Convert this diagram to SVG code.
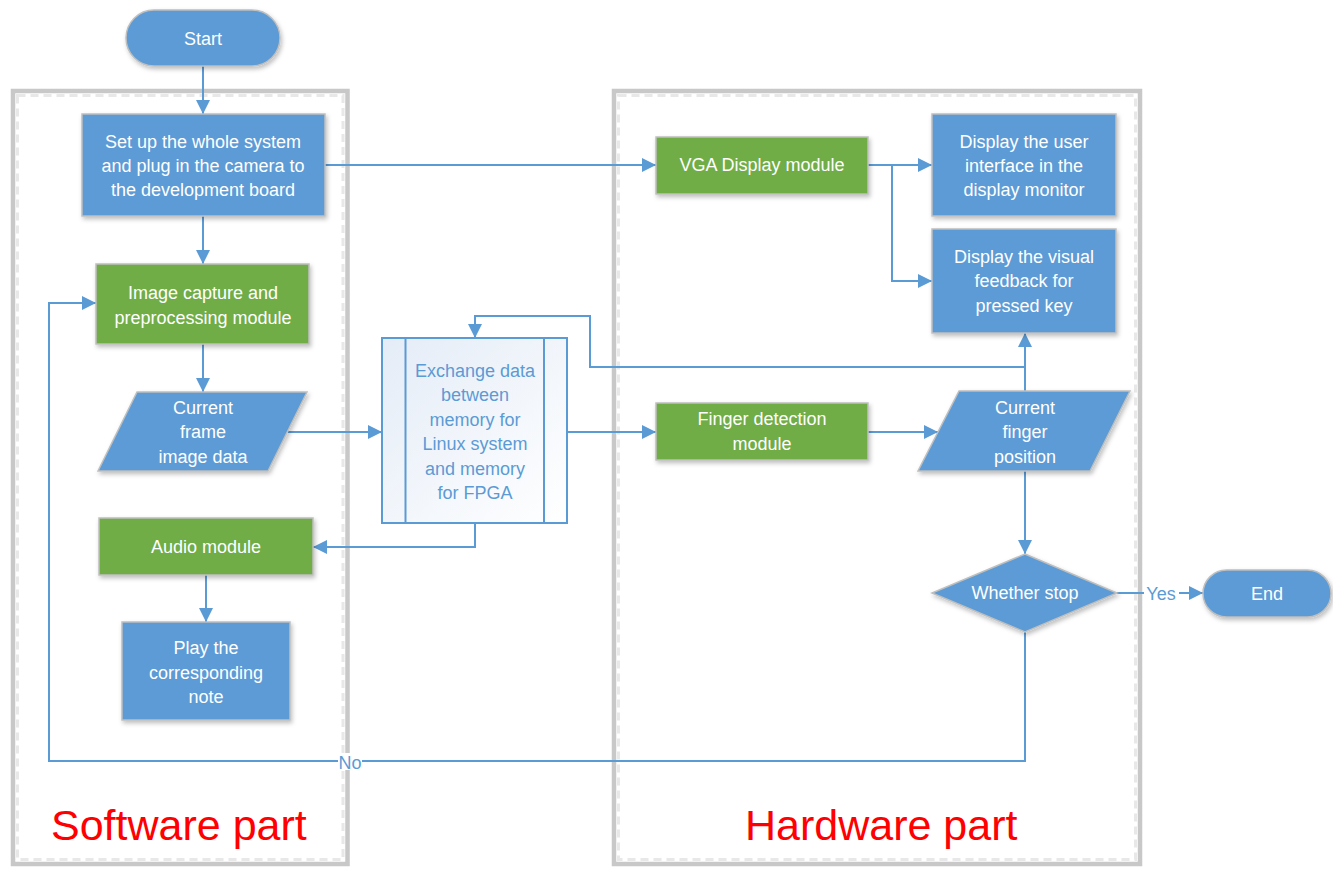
<svg xmlns="http://www.w3.org/2000/svg" width="1333" height="869" viewBox="0 0 1333 869">
<style>
.t{font-family:"Liberation Sans",Arial,sans-serif;font-size:18px;fill:#ffffff;text-anchor:middle;}
.tb{font-family:"Liberation Sans",Arial,sans-serif;font-size:18px;fill:#5b9bd5;text-anchor:middle;}
.blue{fill:#5b9bd5;stroke:#bfbfbf;stroke-width:1.5;filter:url(#sh);}
.green{fill:#70ad47;stroke:#bfbfbf;stroke-width:1.5;filter:url(#sh);}
.cont{fill:none;stroke:#c8c8c8;stroke-width:4.5;}
.contin{fill:none;stroke:#e8e8e8;stroke-width:3;stroke-dasharray:8 5;}
.lbl{font-family:"Liberation Sans",Arial,sans-serif;font-size:43px;fill:#ff0000;}
.c{fill:none;stroke:#5b9bd5;stroke-width:2;}
</style>
<defs>
<filter id="sh" x="-10%" y="-10%" width="130%" height="140%">
<feDropShadow dx="1.5" dy="2.5" stdDeviation="2" flood-color="#000000" flood-opacity="0.25"/>
</filter>
<linearGradient id="gx" x1="0" y1="0" x2="1" y2="1">
<stop offset="0" stop-color="#e4ecf7"/>
<stop offset="1" stop-color="#ffffff"/>
</linearGradient>
<marker id="ar" viewBox="0 0 14 14" refX="14" refY="7" markerWidth="14" markerHeight="14" markerUnits="userSpaceOnUse" orient="auto">
<path d="M0,0 L14,7 L0,14 Z" fill="#5b9bd5"/>
</marker>
</defs>
<rect width="1333" height="869" fill="#ffffff"/>

<g id="software-part">
<rect class="cont" x="13" y="91" width="334.5" height="773"/>
<rect class="contin" x="17.5" y="95.5" width="325.5" height="764"/>
<text class="lbl" x="51" y="840">Software part</text>
</g>
<g id="hardware-part">
<rect class="cont" x="614" y="91" width="526" height="773"/>
<rect class="contin" x="618.5" y="95.5" width="517" height="764"/>
<text class="lbl" x="745" y="840">Hardware part</text>
</g>

<g id="connectors">
<path class="c" d="M203,66 V114" marker-end="url(#ar)"/>
<path class="c" d="M203,216 V264" marker-end="url(#ar)"/>
<path class="c" d="M203,344 V392" marker-end="url(#ar)"/>
<path class="c" d="M288,432 H382" marker-end="url(#ar)"/>
<path class="c" d="M567,432 H656" marker-end="url(#ar)"/>
<path class="c" d="M475,523 V547 H313" marker-end="url(#ar)"/>
<path class="c" d="M206,575 V622" marker-end="url(#ar)"/>
<path class="c" d="M325,165 H656" marker-end="url(#ar)"/>
<path class="c" d="M868,165 H932" marker-end="url(#ar)"/>
<path class="c" d="M892,165 V281 H932" marker-end="url(#ar)"/>
<path class="c" d="M868,432 H938" marker-end="url(#ar)"/>
<path class="c" d="M1025,391 V333" marker-end="url(#ar)"/>
<path class="c" d="M1025,367 H590 V316 H475 V338" marker-end="url(#ar)"/>
<path class="c" d="M1025,471 V554" marker-end="url(#ar)"/>
<path class="c" d="M1025,632 V761 H49 V303 H96" marker-end="url(#ar)"/>
<path class="c" d="M1116,593 H1203" marker-end="url(#ar)"/>
<rect x="338" y="753" width="24" height="17" fill="#ffffff"/>
<text class="tb" x="350" y="769">No</text>
<rect x="1144" y="584" width="35" height="19" fill="#ffffff"/>
<text class="tb" x="1161" y="600">Yes</text>
</g>

<g id="start">
<rect class="blue" x="126" y="10" width="154" height="56" rx="28"/>
<text class="t" x="203" y="45">Start</text>
</g>
<g id="setup">
<rect class="blue" x="82" y="114" width="243" height="102"/>
<text class="t" x="203" y="148">Set up the whole system</text>
<text class="t" x="203" y="172">and plug in the camera to</text>
<text class="t" x="203" y="196">the development board</text>
</g>
<g id="image-capture">
<rect class="green" x="96" y="264" width="213" height="80"/>
<text class="t" x="203" y="299">Image capture and</text>
<text class="t" x="203" y="324">preprocessing module</text>
</g>
<g id="current-frame">
<polygon class="blue" points="137,392 307,392 268,471 98,471"/>
<text class="t" x="203" y="414">Current</text>
<text class="t" x="203" y="438">frame</text>
<text class="t" x="203" y="463">image data</text>
</g>
<g id="exchange">
<rect x="382" y="338" width="185" height="185" fill="url(#gx)" stroke="#5b9bd5" stroke-width="2"/>
<line x1="405.5" y1="338" x2="405.5" y2="523" stroke="#5b9bd5" stroke-width="2"/>
<line x1="544" y1="338" x2="544" y2="523" stroke="#5b9bd5" stroke-width="2"/>
<text class="tb" x="475" y="377">Exchange data</text>
<text class="tb" x="475" y="401">between</text>
<text class="tb" x="475" y="426">memory for</text>
<text class="tb" x="475" y="450">Linux system</text>
<text class="tb" x="475" y="475">and memory</text>
<text class="tb" x="475" y="499">for FPGA</text>
</g>
<g id="audio">
<rect class="green" x="99" y="518" width="214" height="57"/>
<text class="t" x="206" y="553">Audio module</text>
</g>
<g id="play">
<rect class="blue" x="122" y="622" width="168" height="98"/>
<text class="t" x="206" y="654">Play the</text>
<text class="t" x="206" y="679">corresponding</text>
<text class="t" x="206" y="703">note</text>
</g>
<g id="vga">
<rect class="green" x="656" y="137" width="212" height="57"/>
<text class="t" x="762" y="171">VGA Display module</text>
</g>
<g id="display-ui">
<rect class="blue" x="932" y="114" width="184" height="102"/>
<text class="t" x="1024" y="148">Display the user</text>
<text class="t" x="1024" y="172">interface in the</text>
<text class="t" x="1024" y="196">display monitor</text>
</g>
<g id="display-feedback">
<rect class="blue" x="932" y="229" width="184" height="104"/>
<text class="t" x="1024" y="263">Display the visual</text>
<text class="t" x="1024" y="287">feedback for</text>
<text class="t" x="1024" y="312">pressed key</text>
</g>
<g id="finger-detection">
<rect class="green" x="656" y="403" width="212" height="57"/>
<text class="t" x="762" y="425">Finger detection</text>
<text class="t" x="762" y="450">module</text>
</g>
<g id="finger-position">
<polygon class="blue" points="959,391 1130,391 1090,471 918,471"/>
<text class="t" x="1025" y="414">Current</text>
<text class="t" x="1025" y="438">finger</text>
<text class="t" x="1025" y="463">position</text>
</g>
<g id="whether-stop">
<polygon class="blue" points="1025,554 1117,593 1025,632 932,593"/>
<text class="t" x="1025" y="599">Whether stop</text>
</g>
<g id="end">
<rect class="blue" x="1203" y="570" width="128" height="47" rx="23.5"/>
<text class="t" x="1267" y="600">End</text>
</g>
</svg>
